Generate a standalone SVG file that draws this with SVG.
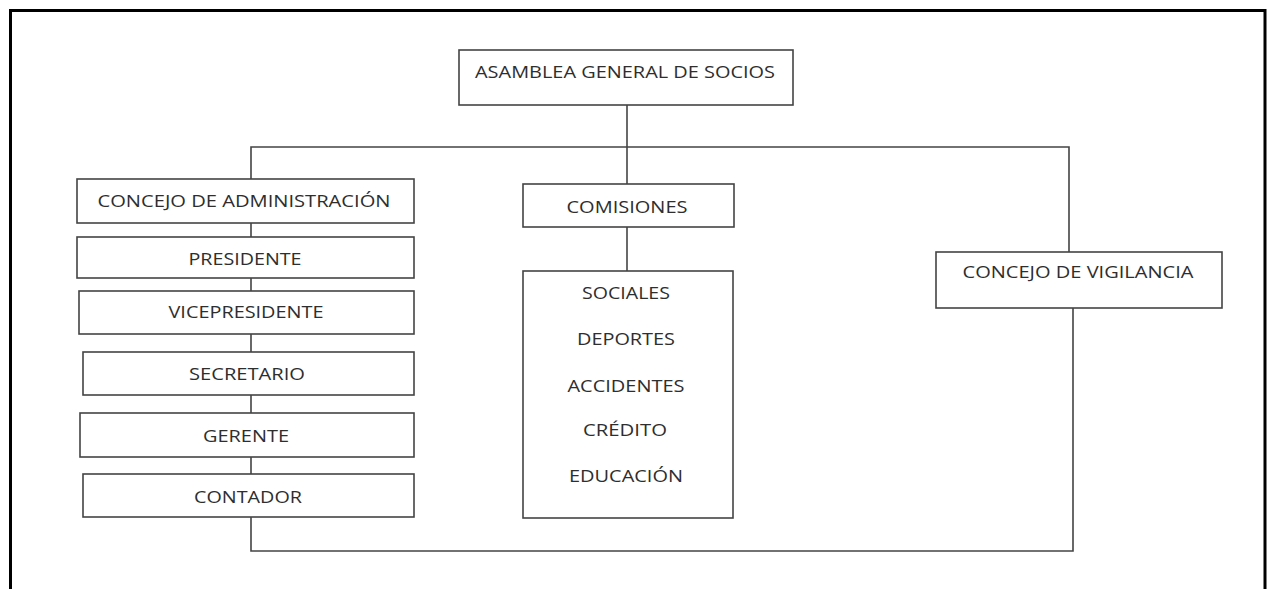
<svg xmlns="http://www.w3.org/2000/svg" width="1272" height="589" viewBox="0 0 1272 589">
<style>
.box{fill:#fff;stroke:#444;stroke-width:1.6}
.t{font-family:"Open Sans","Liberation Sans",Arial,sans-serif;font-size:17px;fill:#2e2e2e;text-anchor:middle}
.c{fill:none;stroke:#444;stroke-width:1.6}
</style>
<rect width="1272" height="589" fill="#fff"/>
<path d="M10.5,589 V10.5 H1265 V589" fill="none" stroke="#000" stroke-width="3"/>
<g id="connectors">
<path class="c" d="M627,105 V184"/>
<path class="c" d="M251,179 V147 H1069 V252"/>
<path class="c" d="M627,227 V271"/>
<path class="c" d="M251,223 V237 M251,278 V291 M251,334 V352 M251,395 V413 M251,457 V474"/>
<path class="c" d="M251,517 V551 H1073 V308"/>
</g>
<g id="asamblea"><rect class="box" x="459" y="50" width="334" height="55"/><text class="t" x="625" y="78" textLength="300" lengthAdjust="spacingAndGlyphs">ASAMBLEA GENERAL DE SOCIOS</text></g>
<g id="concejo-admin"><rect class="box" x="77" y="179" width="337" height="44"/><text class="t" x="244" y="207" textLength="293" lengthAdjust="spacingAndGlyphs">CONCEJO DE ADMINISTRACIÓN</text></g>
<g id="presidente"><rect class="box" x="77" y="237" width="337" height="41"/><text class="t" x="245" y="265" textLength="113" lengthAdjust="spacingAndGlyphs">PRESIDENTE</text></g>
<g id="vicepresidente"><rect class="box" x="79" y="291" width="335" height="43"/><text class="t" x="246" y="318" textLength="155" lengthAdjust="spacingAndGlyphs">VICEPRESIDENTE</text></g>
<g id="secretario"><rect class="box" x="83" y="352" width="331" height="43"/><text class="t" x="247" y="380" textLength="116" lengthAdjust="spacingAndGlyphs">SECRETARIO</text></g>
<g id="gerente"><rect class="box" x="80" y="413" width="334" height="44"/><text class="t" x="246" y="442" textLength="86" lengthAdjust="spacingAndGlyphs">GERENTE</text></g>
<g id="contador"><rect class="box" x="83" y="474" width="331" height="43"/><text class="t" x="248" y="503" textLength="108" lengthAdjust="spacingAndGlyphs">CONTADOR</text></g>
<g id="comisiones"><rect class="box" x="523" y="184" width="211" height="43"/><text class="t" x="627" y="213" textLength="121" lengthAdjust="spacingAndGlyphs">COMISIONES</text></g>
<g id="lista-comisiones"><rect class="box" x="523" y="271" width="210" height="247"/>
<text class="t" x="626" y="299" textLength="88" lengthAdjust="spacingAndGlyphs">SOCIALES</text>
<text class="t" x="626" y="345" textLength="98" lengthAdjust="spacingAndGlyphs">DEPORTES</text>
<text class="t" x="626" y="392" textLength="117" lengthAdjust="spacingAndGlyphs">ACCIDENTES</text>
<text class="t" x="625" y="436" textLength="84" lengthAdjust="spacingAndGlyphs">CRÉDITO</text>
<text class="t" x="626" y="482" textLength="114" lengthAdjust="spacingAndGlyphs">EDUCACIÓN</text>
</g>
<g id="concejo-vigilancia"><rect class="box" x="936" y="252" width="286" height="56"/><text class="t" x="1078" y="278" textLength="231" lengthAdjust="spacingAndGlyphs">CONCEJO DE VIGILANCIA</text></g>
</svg>
